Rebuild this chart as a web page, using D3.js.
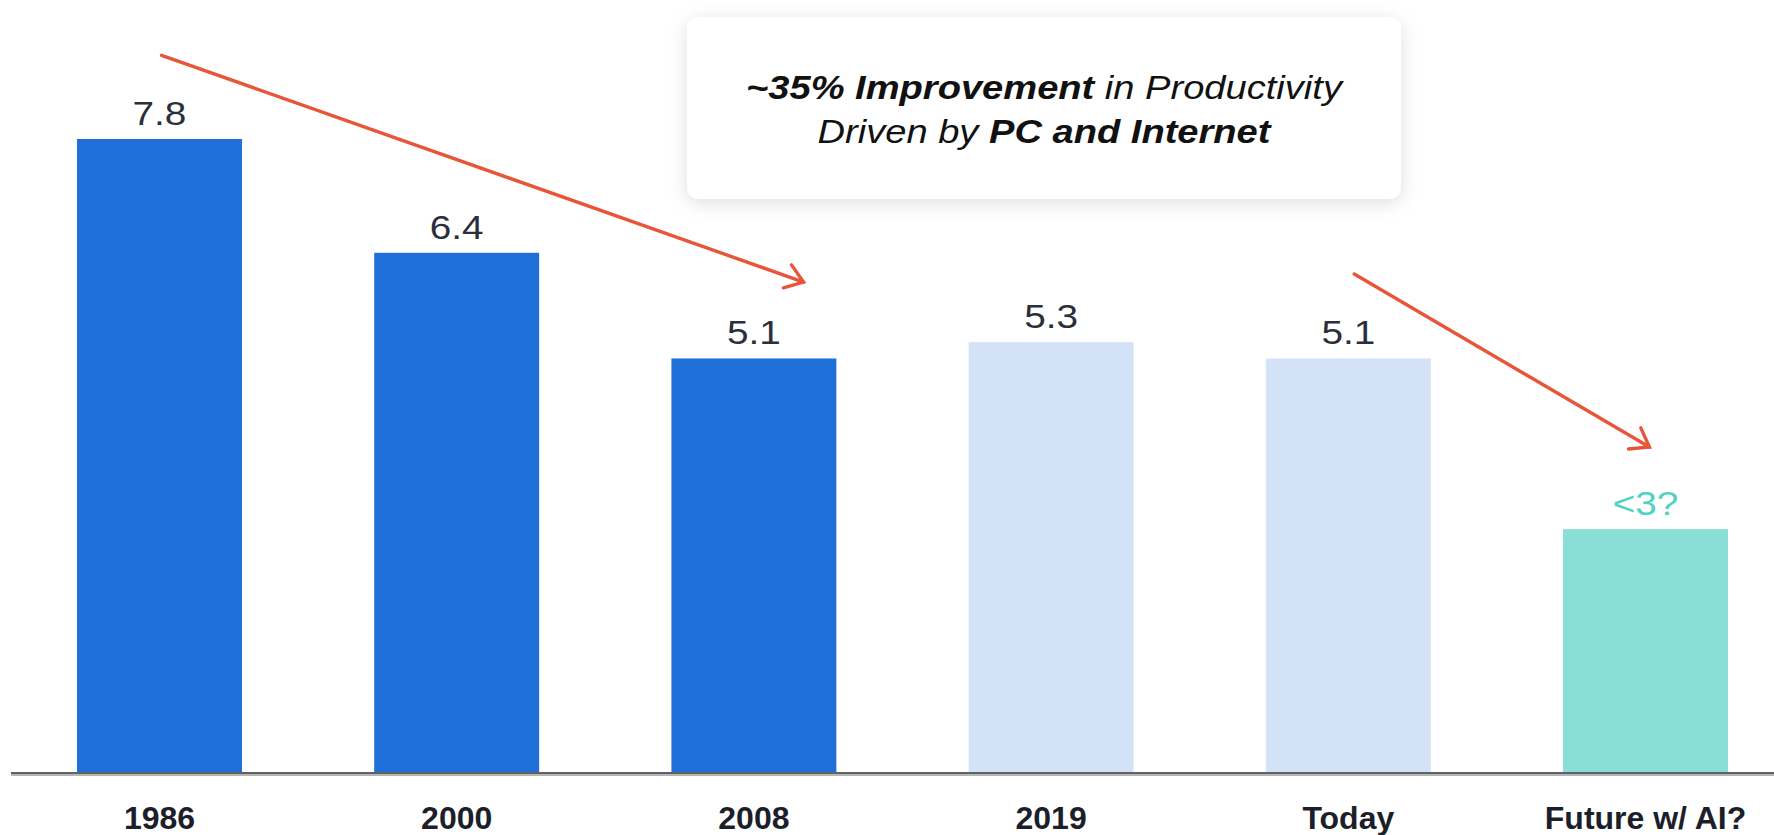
<!DOCTYPE html>
<html>
<head>
<meta charset="utf-8">
<script src="https://cdn.jsdelivr.net/npm/d3@7"></script>
<style>
  html, body { margin: 0; padding: 0; background: #ffffff; }
  svg { display: block; }
</style>
</head>
<body>
<svg id="chart" width="1774" height="835"></svg>
<script>
// ---- Data ----
const categories = ["1986", "2000", "2008", "2019", "Today", "Future w/ AI?"];
const values = [7.8, 6.4, 5.1, 5.3, 5.1, 3.0];
const valueLabels = ["7.8", "6.4", "5.1", "5.3", "5.1", "<3?"];
const barGroups = ["past", "past", "past", "recent", "recent", "future"];
const calloutLine1 = [
  { text: "~35% Improvement", weight: "bold" },
  { text: " in Productivity", weight: "normal" }
];
const calloutLine2 = [
  { text: "Driven by ", weight: "normal" },
  { text: "PC and Internet", weight: "bold" }
];
// trend arrows in data terms: [category index, value] start -> end
const arrows = [
  { from: [0.007, 8.83], to: [2.167, 6.04] },
  { from: [4.02, 6.14], to: [5.013, 4.01] }
];

// ---- Styles ----
const colors = { past: "#1f6fd8", recent: "#d3e2f7", future: "#89dfd5" };
const labelColors = { past: "#2b2f3b", recent: "#2b2f3b", future: "#4fd3c2" };
const arrowColor = "#e8563a";

const svg = d3.select("#chart");

const x = d3.scaleBand()
  .domain(categories)
  .range([77, 1728])
  .paddingInner(0.445)
  .paddingOuter(0);

const y = d3.scaleLinear()
  .domain([0, 7.8])
  .range([773, 139]);

const xi = d3.scaleLinear()
  .domain([0, categories.length - 1])
  .range([x(categories[0]) + x.bandwidth() / 2, x(categories[categories.length - 1]) + x.bandwidth() / 2]);

// defs: shadow
const defs = svg.append("defs");
const f = defs.append("filter").attr("id", "shadow")
  .attr("x", "-10%").attr("y", "-20%").attr("width", "120%").attr("height", "150%");
f.append("feDropShadow").attr("dx", 0).attr("dy", 4).attr("stdDeviation", 9)
  .attr("flood-color", "#000").attr("flood-opacity", 0.13);

// Bars
const data = categories.map((c, i) => ({ c, v: values[i], lab: valueLabels[i], g: barGroups[i] }));

svg.append("g").selectAll("rect").data(data).join("rect")
  .attr("x", d => x(d.c))
  .attr("y", d => y(d.v))
  .attr("width", x.bandwidth())
  .attr("height", d => y(0) - y(d.v))
  .attr("fill", d => colors[d.g]);

// Value labels
svg.append("g").selectAll("text").data(data).join("text")
  .attr("transform", d => `translate(${x(d.c) + x.bandwidth() / 2},${y(d.v) - 14}) scale(1.14,1)`)
  .attr("text-anchor", "middle")
  .attr("font-family", "Liberation Sans, Arial, Helvetica, sans-serif")
  .attr("font-size", 34)
  .attr("fill", d => labelColors[d.g])
  .text(d => d.lab);

// Axis baseline
svg.append("line")
  .attr("x1", 11).attr("x2", 1774)
  .attr("y1", y(0) + 2).attr("y2", y(0) + 2)
  .attr("stroke", "#b5b5b5").attr("stroke-width", 2);
const xAxis = d3.axisBottom(x).tickSize(0).tickPadding(0);
const ax = svg.append("g").attr("transform", `translate(0,${y(0)})`).call(xAxis);
ax.select(".domain").remove();
ax.append("line")
  .attr("x1", 11).attr("x2", 1774).attr("y1", 0).attr("y2", 0)
  .attr("stroke", "#606266").attr("stroke-width", 2.2);
ax.selectAll(".tick text")
  .attr("y", 56)
  .attr("dy", 0)
  .attr("font-family", "Liberation Sans, Arial, Helvetica, sans-serif")
  .attr("font-size", 32)
  .attr("font-weight", "bold")
  .attr("fill", "#1c1f2a");

// Arrows
const arrowG = svg.append("g");
arrows.forEach(a => {
  const x1 = xi(a.from[0]), y1 = y(a.from[1]);
  const x2 = xi(a.to[0]), y2 = y(a.to[1]);
  const ang = Math.atan2(y2 - y1, x2 - x1);
  const L = 21, spread = 0.62;
  arrowG.append("line")
    .attr("x1", x1).attr("y1", y1).attr("x2", x2).attr("y2", y2)
    .attr("stroke", arrowColor).attr("stroke-width", 3.4).attr("stroke-linecap", "round");
  const pts = [
    [x2 - L * Math.cos(ang - spread), y2 - L * Math.sin(ang - spread)],
    [x2, y2],
    [x2 - L * Math.cos(ang + spread), y2 - L * Math.sin(ang + spread)]
  ];
  arrowG.append("path")
    .attr("d", d3.line()(pts))
    .attr("fill", "none").attr("stroke", arrowColor).attr("stroke-width", 3.4)
    .attr("stroke-linecap", "round").attr("stroke-linejoin", "miter");
});

// Callout box
const box = { x: 687, y: 17, w: 714, h: 182 };
svg.append("rect")
  .attr("x", box.x).attr("y", box.y).attr("width", box.w).attr("height", box.h)
  .attr("rx", 12).attr("ry", 12)
  .attr("fill", "#ffffff")
  .attr("filter", "url(#shadow)");

function calloutLine(parts, baseline) {
  const t = svg.append("text")
    .attr("transform", `translate(${box.x + box.w / 2},${baseline}) scale(1.155,1)`)
    .attr("text-anchor", "middle")
    .attr("font-family", "Liberation Sans, Arial, Helvetica, sans-serif")
    .attr("font-size", 33)
    .attr("font-style", "italic")
    .attr("fill", "#111111");
  t.selectAll("tspan").data(parts).join("tspan")
    .attr("font-weight", d => d.weight)
    .text(d => d.text);
}
calloutLine(calloutLine1, 99);
calloutLine(calloutLine2, 143);
</script>
</body>
</html>
